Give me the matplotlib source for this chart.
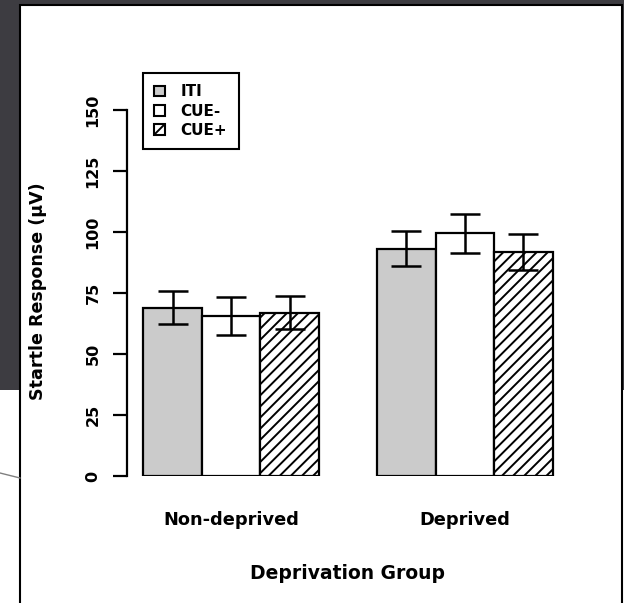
import numpy as np
import matplotlib
matplotlib.use("Agg")
import matplotlib.pyplot as plt
from matplotlib.patches import Rectangle, Patch
from matplotlib.transforms import blended_transform_factory

# data
groups = ["Non-deprived", "Deprived"]
conditions = ["ITI", "CUE-", "CUE+"]
iti = [69.0, 93.2]
cue_minus = [65.6, 99.5]
cue_plus = [66.9, 91.9]
iti_err = [6.9, 7.1]
cue_minus_err = [7.9, 8.0]
cue_plus_err = [6.8, 7.3]
yticks = [0, 25, 50, 75, 100, 125, 150]

W, H = 624, 603
plt.rcParams['font.family'] = ['DejaVu Sans']
plt.rcParams['font.weight'] = 'bold'
plt.rcParams['hatch.linewidth'] = 1.4

fig = plt.figure(figsize=(W / 100, H / 100), dpi=100)

# helper: pixel box -> figure fraction
def px(x, y, w, h):
    return (x / W, 1 - (y + h) / H), w / W, h / H

# dark screenshot background and the white panel
xy, w, h = px(0, 0, W, 390)
fig.patches.append(Rectangle(xy, w, h, transform=fig.transFigure, facecolor='#3d3c41', edgecolor='none', zorder=0))
xy, w, h = px(20, 5, 602, 620)
fig.patches.append(Rectangle(xy, w, h, transform=fig.transFigure, facecolor='white', edgecolor='black', linewidth=1.5, zorder=1))
fig.add_artist(plt.Line2D([0, 20 / W], [1 - 473 / H, 1 - 478 / H], transform=fig.transFigure, color='#808080', linewidth=1))

# axes: y=0 at 476px, 2.44px per unit
top_val = 170
top_px = 476 - top_val * 2.44
ax = fig.add_axes([127 / W, 1 - 476 / H, (569 - 127) / W, (476 - top_px) / H])
ax.set_zorder(2)
ax.patch.set_visible(False)

x = np.arange(len(groups)) * 4
ax.bar(x + 1.5, iti, width=1, color='#cbcbcb', edgecolor='black', linewidth=1.6)
ax.bar(x + 2.5, cue_minus, width=1, color='white', edgecolor='black', linewidth=1.6)
ax.bar(x + 3.5, cue_plus, width=1, color='white', edgecolor='black', linewidth=1.6, hatch='///')

ax.errorbar(x + 1.5, iti, yerr=iti_err, fmt='none', ecolor='black', elinewidth=1.8, capsize=11, capthick=1.8)
ax.errorbar(x + 2.5, cue_minus, yerr=cue_minus_err, fmt='none', ecolor='black', elinewidth=1.8, capsize=11, capthick=1.8)
ax.errorbar(x + 3.5, cue_plus, yerr=cue_plus_err, fmt='none', ecolor='black', elinewidth=1.8, capsize=11, capthick=1.8)

ax.set_xlim(0.72, 8.28)
ax.set_ylim(0, top_val)
for s in ['top', 'right', 'bottom']:
    ax.spines[s].set_visible(False)
ax.spines['left'].set_bounds(0, 150)
ax.spines['left'].set_linewidth(1.6)
ax.set_xticks([])
ax.set_yticks(yticks)
ax.set_yticklabels([str(t) for t in yticks], rotation=90, va='center', fontsize=11.5, fontweight='bold')
ax.tick_params(axis='y', length=10, width=1.6, pad=9)

# group names and axis titles
tr = blended_transform_factory(ax.transData, fig.transFigure)
for i, g in enumerate(groups):
    ax.text(x[i] + 2.5, 1 - 525 / H, g, transform=tr, ha='center', va='baseline', fontsize=12.8, fontweight='bold')
ax.text(4.5, 1 - 579 / H, "Deprivation Group", transform=tr, ha='center', va='baseline', fontsize=13.5, fontweight='bold')
fig.text(38 / W, 1 - 291 / H, "Startle Response (\u03bcV)", rotation=90, ha='center', va='center', fontsize=12.6, fontweight='bold', zorder=3)

handles = [Patch(facecolor='#cbcbcb', edgecolor='black', linewidth=1.5),
           Patch(facecolor='white', edgecolor='black', linewidth=1.5),
           Patch(facecolor='white', edgecolor='black', linewidth=1.5, hatch='///')]
leg = fig.legend(handles, conditions, loc='upper left', bbox_to_anchor=(143 / W, 1 - 73 / H),
                 borderaxespad=0, fancybox=False, edgecolor='black', framealpha=1,
                 handlelength=0.7, handleheight=0.7, handletextpad=1.0, labelspacing=0.28,
                 borderpad=0.75, prop={'size': 11, 'weight': 'bold'})
leg.get_frame().set_linewidth(1.5)
leg.set_zorder(4)

fig.savefig("out.png", dpi=100)
